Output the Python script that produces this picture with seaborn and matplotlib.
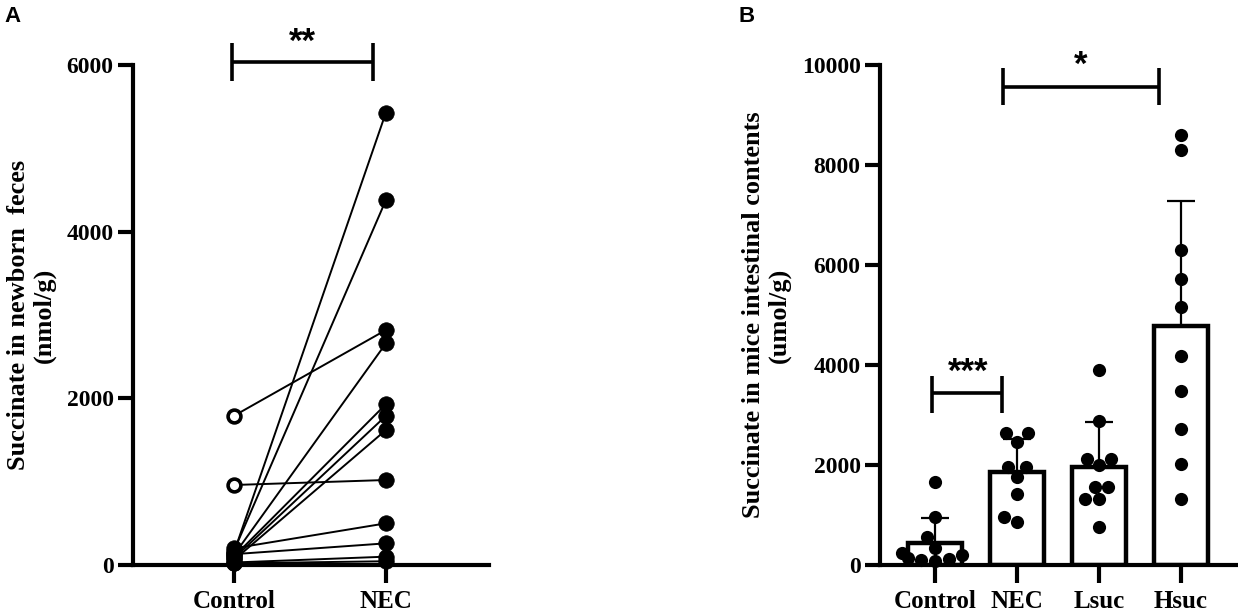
import numpy as np
import pandas as pd
import seaborn as sns
import matplotlib
matplotlib.use("Agg")
import matplotlib.pyplot as plt

sns.set_theme(style="ticks")
plt.rcParams['font.family'] = ['Liberation Serif', 'DejaVu Serif']
plt.rcParams['font.weight'] = 'bold'
plt.rcParams['axes.labelweight'] = 'bold'
plt.rcParams['text.color'] = 'black'
plt.rcParams['axes.labelcolor'] = 'black'
plt.rcParams['xtick.color'] = 'black'
plt.rcParams['ytick.color'] = 'black'

# ---------------- Panel A data (paired newborn feces) ----------------
pair_groups = ["Control", "NEC"]
control_a = [150, 170, 1790, 120, 100, 80, 60, 960, 200, 130, 30, 20]
nec_a = [5430, 4380, 2820, 2660, 1930, 1790, 1620, 1020, 500, 260, 100, 45]
control_a_open = [False, False, True, False, False, False, False, True,
                  False, False, False, False]
yticks_a = [0, 2000, 4000, 6000]

# ---------------- Panel B data (mice intestinal contents) ----------------
groups_b = ["Control", "NEC", "Lsuc", "Hsuc"]
control_b = [1660, 960, 560, 350, 250, 200, 150, 120, 100, 80]
nec_b = [2640, 2640, 2470, 1970, 1970, 1770, 1430, 970, 870]
lsuc_b = [3900, 2890, 2130, 2130, 2000, 1570, 1570, 1320, 1320, 770]
hsuc_b = [8600, 8300, 6300, 5730, 5170, 4190, 3490, 2730, 2030, 1320]
yticks_b = [0, 2000, 4000, 6000, 8000, 10000]

W, H = 1238, 615
fig = plt.figure(figsize=(W / 100, H / 100), dpi=100)

TICK_FS = 17
XT_FS = 18
LAB_FS = 19
SPINE_LW = 3.0
STAR_FAM = ["Liberation Sans", "DejaVu Sans"]

def style_axes(ax):
    sns.despine(ax=ax)
    for s in ("left", "bottom"):
        ax.spines[s].set_linewidth(SPINE_LW)
        ax.spines[s].set_color("black")
    ax.tick_params(axis="y", length=11, width=SPINE_LW, pad=3,
                   labelsize=TICK_FS, colors="black")
    ax.tick_params(axis="x", length=13, width=SPINE_LW, pad=5,
                   labelsize=XT_FS, colors="black")
    for lab in ax.get_xticklabels() + ax.get_yticklabels():
        lab.set_fontweight("bold")
    ax.set_facecolor("white")

# ================= Panel A =================
axA = fig.add_axes([133 / W, 1 - 565 / H, (489 - 133) / W, 500 / H])
rows = []
for i, (c, n) in enumerate(zip(control_a, nec_a)):
    rows.append({"subject": i, "pos": 0, "value": c, "open": control_a_open[i]})
    rows.append({"subject": i, "pos": 1, "value": n, "open": False})
dfA = pd.DataFrame(rows)

sns.lineplot(data=dfA, x="pos", y="value", units="subject", estimator=None,
             color="black", lw=1.4, ax=axA, legend=False, zorder=2)
filled = dfA[~dfA["open"]]
sns.scatterplot(data=filled, x="pos", y="value", color="black", s=125,
                edgecolor="black", linewidth=0.5, ax=axA, legend=False,
                zorder=3, clip_on=False)
opened = dfA[dfA["open"]]
sns.scatterplot(data=opened, x="pos", y="value", facecolor="white", s=85,
                edgecolor="black", linewidth=2.6, ax=axA, legend=False,
                zorder=3, clip_on=False)

axA.set_xlim(-0.664, 1.678)
axA.set_ylim(0, 6000)
axA.set_xticks([0, 1])
axA.set_xticklabels(pair_groups)
axA.set_yticks(yticks_a)
axA.set_yticklabels([str(v) for v in yticks_a])
axA.set_xlabel("")
axA.set_ylabel("Succinate in newborn  feces\n(nmol/g)", fontsize=LAB_FS,
               fontweight="bold", linespacing=1.1)
axA.yaxis.set_label_coords(-0.218, 0.5)
style_axes(axA)

# significance bracket A
kw = dict(color="black", lw=2.6, clip_on=False, solid_capstyle="butt")
axA.plot([-0.013, 0.914], [6036, 6036], **kw)
axA.plot([-0.013, -0.013], [5808, 6264], **kw)
axA.plot([0.914, 0.914], [5808, 6264], **kw)
axA.text(0.45, 6270, "**", ha="center", va="center", fontsize=25,
         fontweight="bold", family=STAR_FAM, clip_on=False)

# ================= Panel B =================
axB = fig.add_axes([880 / W, 1 - 565 / H, (1238 - 880) / W, 500 / H])
dfB = pd.DataFrame({
    "group": (["Control"] * len(control_b) + ["NEC"] * len(nec_b) +
              ["Lsuc"] * len(lsuc_b) + ["Hsuc"] * len(hsuc_b)),
    "value": control_b + nec_b + lsuc_b + hsuc_b,
})
sns.barplot(data=dfB, x="group", y="value", order=groups_b, errorbar=None,
            color="white", saturation=1, edgecolor="black", linewidth=3.2,
            width=0.66, ax=axB, zorder=1)
stats = dfB.groupby("group")["value"].agg(["mean", "std"]).reindex(groups_b)
axB.errorbar(x=np.arange(len(groups_b)), y=stats["mean"].values,
             yerr=[np.zeros(len(groups_b)), stats["std"].values],
             fmt="none", ecolor="black", elinewidth=1.6, capsize=10,
             capthick=1.6, zorder=2)
sns.swarmplot(data=dfB, x="group", y="value", order=groups_b, color="black",
              size=9.5, ax=axB, zorder=3, clip_on=False)

axB.set_xlim(-0.67, 3.695)
axB.set_ylim(0, 10000)
axB.set_yticks(yticks_b)
axB.set_yticklabels([str(v) for v in yticks_b])
axB.set_xlabel("")
axB.set_ylabel("Succinate in mice intestinal contents\n(umol/g)",
               fontsize=LAB_FS, fontweight="bold", linespacing=1.1)
axB.yaxis.set_label_coords(-0.25, 0.5)
style_axes(axB)

axB.plot([-0.04, 0.82], [3440, 3440], **kw)
axB.plot([-0.04, -0.04], [3040, 3780], **kw)
axB.plot([0.82, 0.82], [3040, 3780], **kw)
axB.text(0.41, 3850, "***", ha="center", va="center", fontsize=25,
         fontweight="bold", family=STAR_FAM, clip_on=False)

axB.plot([0.83, 2.73], [9560, 9560], **kw)
axB.plot([0.83, 0.83], [9200, 9940], **kw)
axB.plot([2.73, 2.73], [9200, 9940], **kw)
axB.text(1.78, 10000, "*", ha="center", va="center", fontsize=25,
         fontweight="bold", family=STAR_FAM, clip_on=False)

# panel letters
fig.text(4 / W, 1 - 6 / H, "A", ha="left", va="top", fontsize=16,
         fontweight="bold", family=STAR_FAM)
fig.text(738 / W, 1 - 6 / H, "B", ha="left", va="top", fontsize=16,
         fontweight="bold", family=STAR_FAM)

fig.savefig("out.png", dpi=100, facecolor="white")
